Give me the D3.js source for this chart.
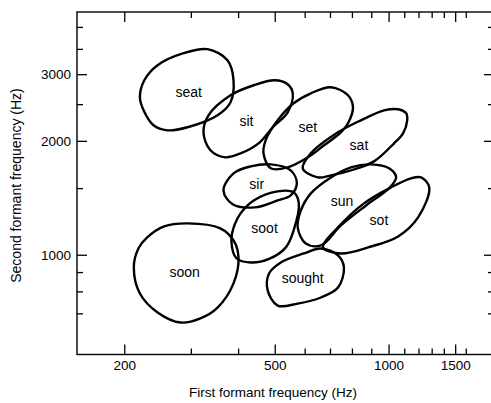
<!DOCTYPE html>
<html>
<head>
<meta charset="utf-8">
<script src="https://cdn.jsdelivr.net/npm/d3@7"></script>
<style>
  body { margin: 0; background: #fff; }
  text { font-family: "Liberation Sans", Arial, sans-serif; fill: #000; }
</style>
</head>
<body>
<div id="graph"></div>
<script>
// tick values (Hz)
var f1Ticks = [200, 300, 400, 500, 600, 700, 800, 900, 1000, 1100, 1200, 1300, 1400, 1500, 1600];
var f1Labels = [200, 500, 1000, 1500];
var f2Ticks = [700, 800, 900, 1000, 1500, 2000, 2500, 3000, 3500, 4000];
var f2Labels = [1000, 2000, 3000];

// vowel region outlines, [F1, F2] in Hz
var seat = [[332,3493],[375,3266],[389,2891],[382,2529],[353,2336],[294,2172],[260,2132],[239,2198],[225,2408],[220,2607],[226,2891],[245,3168],[287,3409]];
var sit = [[500,2891],[541,2822],[558,2671],[541,2379],[494,2172],[453,1970],[406,1853],[370,1809],[338,1888],[324,2106],[334,2336],[382,2639],[440,2805]];
var set = [[704,2771],[781,2639],[805,2453],[781,2225],[748,2106],[675,1946],[612,1809],[541,1702],[488,1692],[467,1853],[473,2006],[509,2266],[561,2513],[623,2671]];
var sat = [[845,2266],[973,2408],[1060,2423],[1113,2365],[1120,2266],[1092,2093],[1034,1970],[915,1765],[795,1671],[704,1621],[650,1601],[593,1692],[623,1853],[735,2106]];
var sir = [[488,1733],[551,1671],[572,1544],[551,1436],[509,1392],[443,1334],[387,1359],[366,1479],[389,1641],[432,1712]];
var soot = [[509,1471],[561,1462],[579,1367],[561,1160],[535,1046],[483,975],[432,954],[396,979],[384,1091],[391,1195],[406,1286],[440,1392]];
var soon = [[294,1210],[359,1174],[389,1091],[401,984],[389,840],[353,725],[318,679],[282,662],[245,704],[220,790],[212,926],[218,1039],[230,1111],[255,1188]];
var sun = [[899,1733],[1003,1692],[1047,1601],[1003,1499],[872,1350],[748,1195],[662,1058],[604,1071],[575,1181],[586,1309],[623,1453],[704,1601],[795,1702]];
var sot = [[1219,1601],[1281,1507],[1197,1255],[1060,1118],[883,1046],[748,1008],[671,1046],[735,1181],[861,1367],[1015,1507],[1147,1592]];
var sought = [[597,1008],[662,1039],[735,996],[762,926],[735,819],[662,771],[575,743],[509,734],[479,805],[483,892],[519,954]];

var words = ['seat', 'sit', 'set', 'sat', 'sir', 'soot', 'soon', 'sun', 'sot', 'sought'];
var outlines = [seat, sit, set, sat, sir, soot, soon, sun, sot, sought];
var labelF1 = [296, 421, 612, 835, 448, 470, 289, 753, 943, 593];
var labelF2 = [2688, 2252, 2172, 1946, 1535, 1174, 898, 1384, 1233, 866];

var width = 491, height = 403;
var plotL = 77, plotR = 494, plotT = 12, plotB = 354.5;

var svg = d3.select('#graph').append('svg')
    .attr('width', width)
    .attr('height', height);

var x = d3.scaleLog().domain([150, 1900]).range([plotL, plotR]);
var y = d3.scaleLog().domain([545, 4380]).range([plotB, plotT]);

// frame
svg.append('rect')
    .attr('x', plotL).attr('y', plotT)
    .attr('width', plotR - plotL).attr('height', plotB - plotT)
    .attr('fill', 'none').attr('stroke', '#000').attr('stroke-width', 1.4);

function addAxis(axisFn, scale, ticks, labels, tx, ty, showText) {
  var minor = ticks.filter(function(d) { return labels.indexOf(d) < 0; });
  var gMinor = svg.append('g').attr('transform', 'translate(' + tx + ',' + ty + ')')
      .call(axisFn(scale).tickValues(minor).tickSize(-6).tickFormat(''));
  var gMajor = svg.append('g').attr('transform', 'translate(' + tx + ',' + ty + ')')
      .call(axisFn(scale).tickValues(labels).tickSize(-10).tickPadding(6)
        .tickFormat(showText ? d3.format('d') : ''));
  [gMinor, gMajor].forEach(function(g) {
    g.select('.domain').remove();
    g.selectAll('line').attr('stroke', '#000').attr('stroke-width', 1.3);
    g.selectAll('text').style('font-size', '13.5px').attr('fill', '#000')
        .style('font-family', '"Liberation Sans", Arial, sans-serif');
  });
}

addAxis(d3.axisBottom, x, f1Ticks, f1Labels, 0, plotB, true);
addAxis(d3.axisTop, x, f1Ticks, f1Labels, 0, plotT, false);
addAxis(d3.axisLeft, y, f2Ticks, f2Labels, plotL, 0, true);
addAxis(d3.axisRight, y, f2Ticks, f2Labels, plotR, 0, false);

// vowel regions
var line = d3.line()
    .x(function(d) { return x(d[0]); })
    .y(function(d) { return y(d[1]); })
    .curve(d3.curveCatmullRomClosed.alpha(0.5));

svg.append('g').selectAll('path')
    .data(outlines)
  .enter().append('path')
    .attr('d', line)
    .attr('fill', 'none')
    .attr('stroke', '#000')
    .attr('stroke-width', 2.4);

svg.append('g').selectAll('text')
    .data(words)
  .enter().append('text')
    .attr('x', function(d, i) { return x(labelF1[i]); })
    .attr('y', function(d, i) { return y(labelF2[i]); })
    .attr('dy', '.35em')
    .style('text-anchor', 'middle')
    .style('font-size', '14px')
    .text(function(d) { return d; });

// axis titles
svg.append('text')
    .attr('x', 273).attr('y', 396.5)
    .style('text-anchor', 'middle')
    .style('font-size', '13.5px')
    .text('First formant frequency (Hz)');

svg.append('text')
    .attr('transform', 'translate(21,185.5) rotate(-90)')
    .style('text-anchor', 'middle')
    .style('font-size', '14px')
    .text('Second formant frequency (Hz)');
</script>
</body>
</html>
